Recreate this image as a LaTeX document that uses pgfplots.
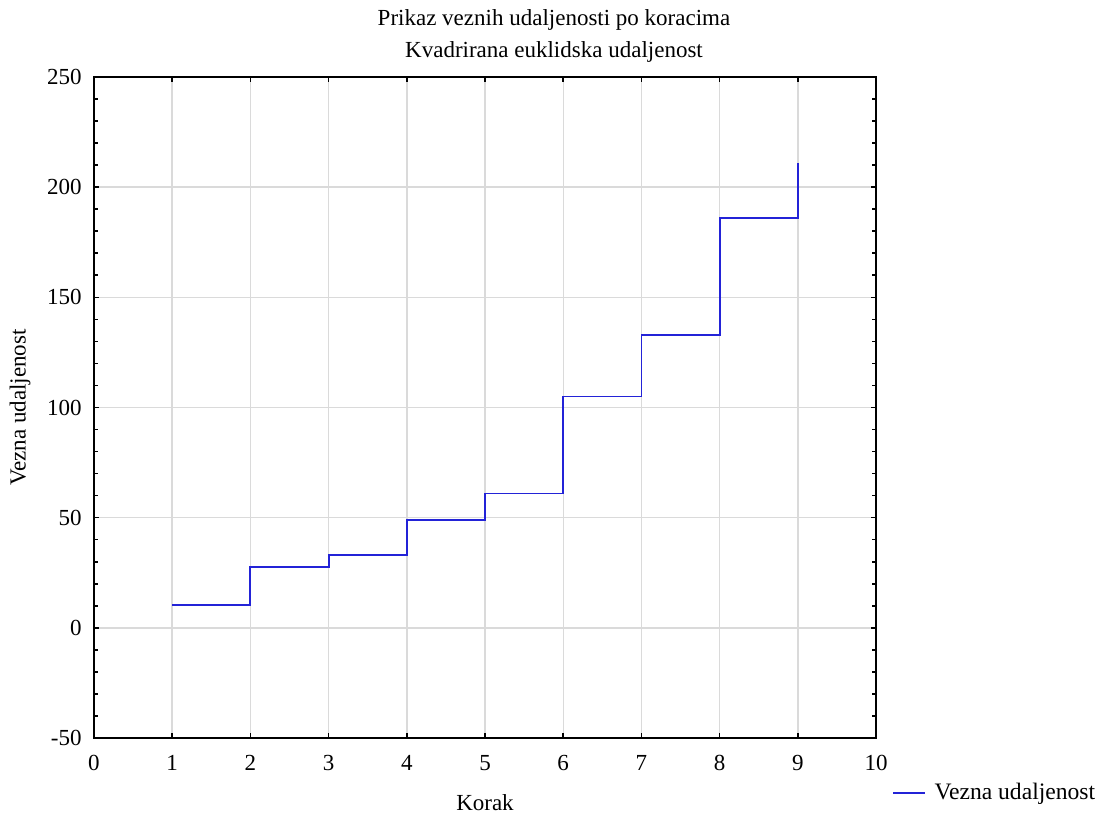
\documentclass[border=0pt]{standalone}
\usepackage{pgfplots}
\pgfplotsset{compat=1.18}
\usepackage{fontspec}
\setmainfont{Liberation Serif}
\definecolor{gridc}{RGB}{218,218,218}
\definecolor{lineblue}{RGB}{35,35,215}
\begin{document}
\begin{tikzpicture}
\begin{axis}[
  name=ax,
  scale only axis,
  width=391pt, height=330.5pt,
  xmin=0, xmax=10, ymin=-50, ymax=250,
  xtick={0,1,...,10}, ytick={-50,0,50,100,150,200,250},
  minor y tick num=4,
  tick align=inside,
  tick pos=both,
  major tick length=2.5pt, minor tick length=1.8pt,
  xmajorgrids, ymajorgrids,
  major grid style={gridc, line width=0.7pt},
  axis line style={line width=1pt},
  every tick/.style={black, line width=0.8pt},
  tick label style={font=\fontsize{11.5}{13}\selectfont, inner sep=0pt},
  xticklabel style={anchor=north, yshift=-8.5pt},
  yticklabel style={anchor=east, xshift=-6pt},
  /pgf/number format/assume math mode=true,
  legend style={at={(rel axis cs:1,0)}, anchor=west, xshift=8pt, yshift=-27.5pt, draw=none, fill=none, inner sep=0pt, font=\fontsize{11.8}{13}\selectfont},
  legend image code/.code={\draw[#1] (0cm,0cm) -- (0.55cm,0cm); \path (0.64cm,0cm);},
  legend cell align=left,
]
\addplot[const plot, lineblue, line width=0.9pt] coordinates {
(1,10.5) (2,27.5) (3,33) (4,49) (5,61) (6,105) (7,133) (8,186) (9,211)
};
\addlegendentry{Vezna udaljenost}
\end{axis}
\node[anchor=base, font=\fontsize{11.5}{13}\selectfont] at ([xshift=34.5pt,yshift=25.5pt]ax.north) {Prikaz veznih udaljenosti po koracima};
\node[anchor=base, font=\fontsize{11.5}{13}\selectfont] at ([xshift=34.5pt,yshift=10pt]ax.north) {Kvadrirana euklidska udaljenost};
\node[anchor=base, font=\fontsize{11.5}{13}\selectfont] at ([yshift=-36.5pt]ax.south) {Korak};
\node[rotate=90, font=\fontsize{11.5}{13}\selectfont] at ([xshift=-37pt]ax.west) {Vezna udaljenost};
\pgfresetboundingbox
\path[use as bounding box] ([xshift=-47pt,yshift=-38pt]ax.south west) rectangle ([xshift=114pt,yshift=38.5pt]ax.north east);
\end{tikzpicture}
\end{document}
